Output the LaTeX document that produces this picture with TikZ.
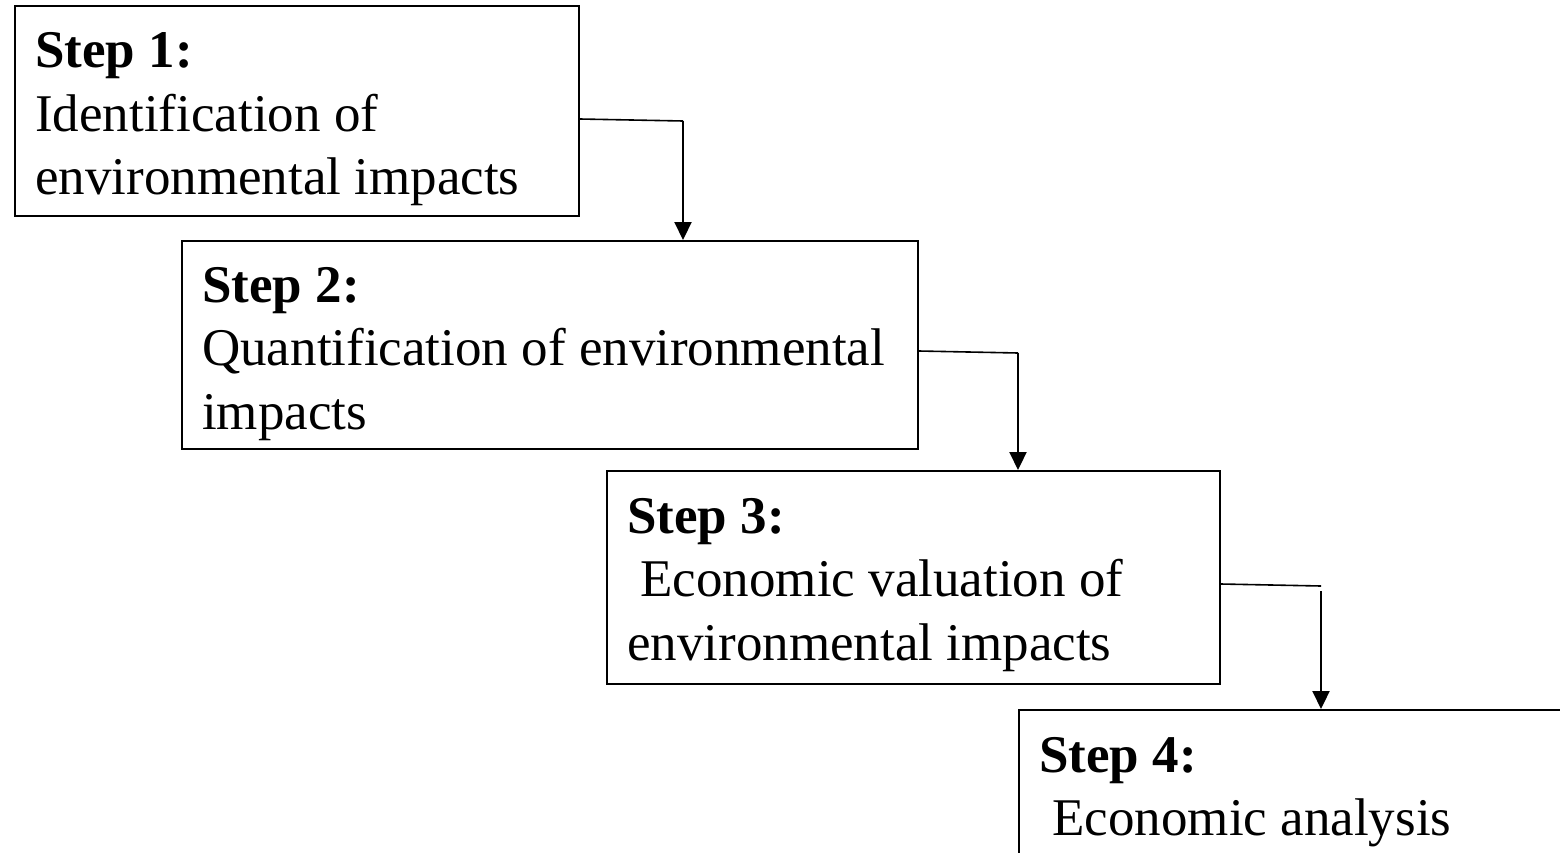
\documentclass[tikz,border=0pt]{standalone}
\usepackage{fontspec}
\setmainfont{Liberation Serif}
\usetikzlibrary{arrows.meta}
\begin{document}
\begin{tikzpicture}[x=1pt,y=1pt,
  box/.style={draw=black,line width=1.6pt,inner sep=0pt,anchor=north west},
  txt/.style={anchor=base west,inner sep=0pt,font=\fontsize{53}{63.5}\selectfont},
  bold/.style={txt,font=\fontsize{53}{63.5}\selectfont\bfseries},
  conn/.style={line width=1.6pt},
  arr/.style={line width=2.2pt,-{Triangle[length=18pt,width=17pt]}}]
\useasboundingbox (0,0) rectangle (1560,-853);
\clip (0,0) rectangle (1560,-853);
% boxes
\node[box,minimum width=564pt,minimum height=210pt] (b1) at (14,-5) {};
\node[box,minimum width=736pt,minimum height=208pt] (b2) at (181,-240) {};
\node[box,minimum width=613pt,minimum height=213pt] (b3) at (606,-470) {};
\node[box,minimum width=600pt,minimum height=200pt] (b4) at (1018,-709) {};
% texts
\node[bold] (s1) at (35,-68) {Step 1:};
\node[txt] (l1a) at (35,-131.5) {Identification of};
\node[txt] (l1b) at (35,-195) {environmental impacts};
\node[bold] (s2) at (202,-302) {Step 2:};
\node[txt] (l2a) at (202,-365.5) {Quantification of environmental};
\node[txt] (l2b) at (202,-429) {impacts};
\node[bold] (s3) at (627,-533) {Step 3:};
\node[txt] (l3a) at (627,-596.5) {\ Economic valuation of};
\node[txt] (l3b) at (627,-660) {environmental impacts};
\node[bold] (s4) at (1039,-772) {Step 4:};
\node[txt] (l4a) at (1039,-835.5) {\ Economic analysis};
% connectors
\coordinate (c1) at (683,-121);
\coordinate (c2) at (1018,-353);
\coordinate (c3) at (1321,-586);
\coordinate (c3b) at (1321,-591);
\draw[conn] (b1.east |- 0,-119) -- (c1);
\draw[arr] (c1) -- (c1 |- b2.north);
\draw[conn] (b2.east |- 0,-351) -- (c2);
\draw[arr] (c2) -- (c2 |- b3.north);
\draw[conn] (b3.east |- 0,-584) -- (c3);
\draw[arr] (c3b) -- (c3b |- b4.north);
\end{tikzpicture}
\end{document}
